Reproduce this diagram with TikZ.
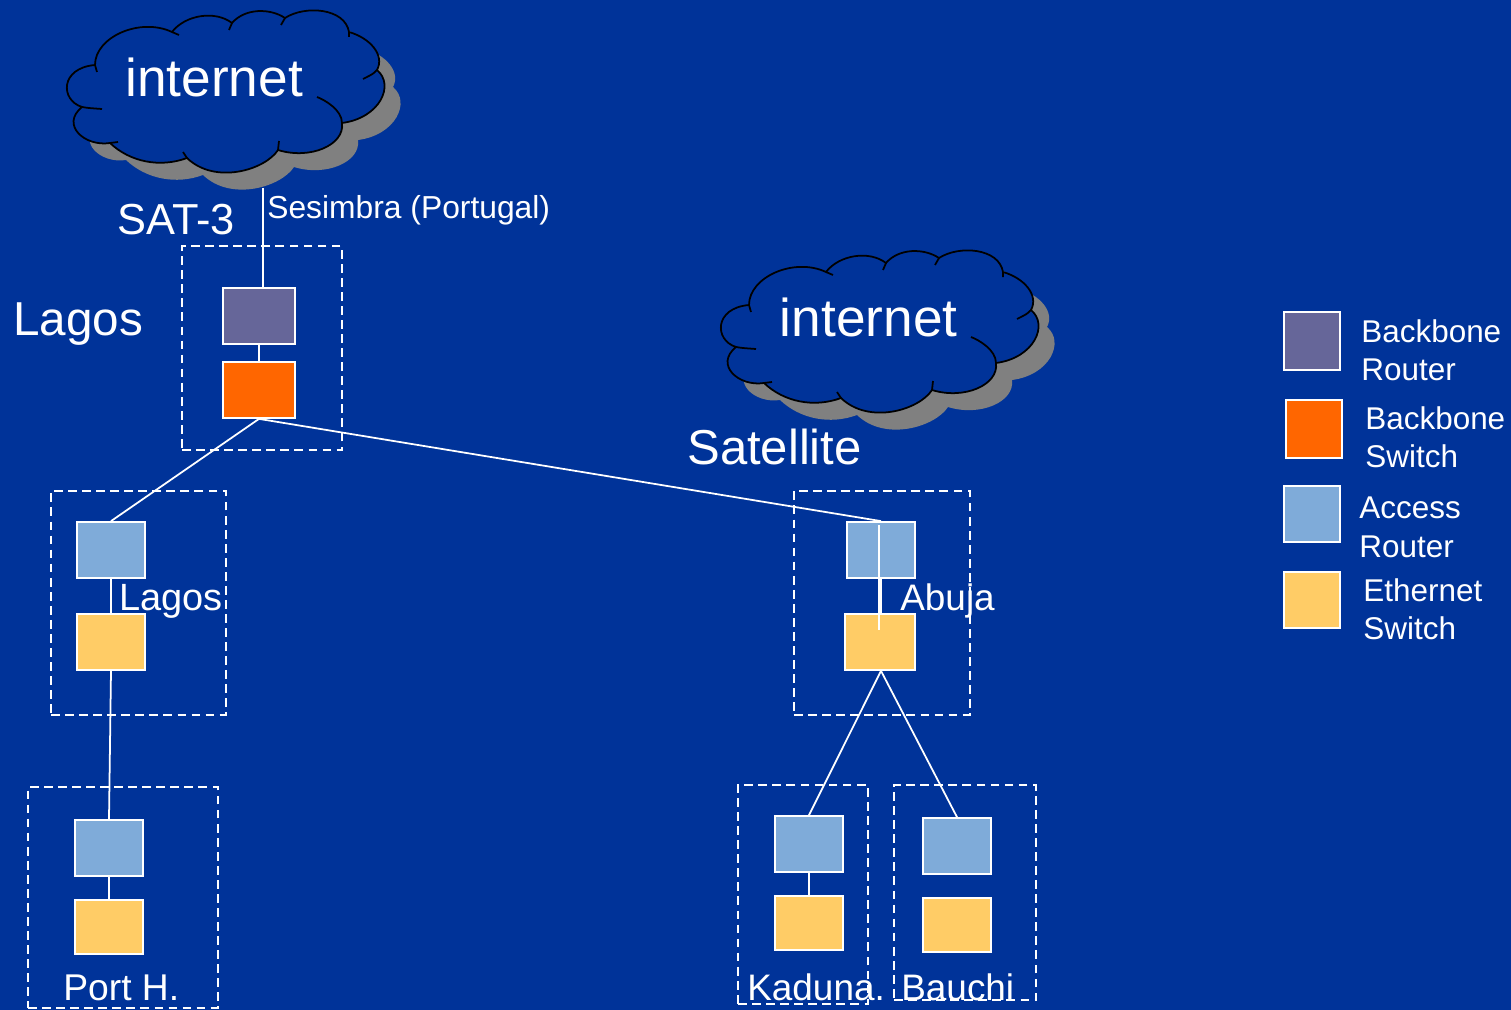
\documentclass[tikz,border=0pt]{standalone}
\usepackage{fontspec}
\setmainfont{Liberation Sans}
\usepackage{xcolor}
\definecolor{slidebg}{HTML}{003399}
\definecolor{routercol}{HTML}{666699}
\definecolor{switchcol}{HTML}{FF6600}
\definecolor{accesscol}{HTML}{7FABD9}
\definecolor{ethercol}{HTML}{FFCC66}
\definecolor{shadowcol}{HTML}{808080}
% outline of the cloud, in pixels of the slide
\newcommand{\cloudoutline}{(95,65) .. controls (95,37) and (140,17) .. (172,32)
  .. controls (185,15) and (215,10) .. (232,23)
  .. controls (245,8) and (270,8) .. (285,18)
  .. controls (305,5) and (345,8) .. (349,32)
  .. controls (370,38) and (385,55) .. (377,70)
  .. controls (395,85) and (380,118) .. (342,123)
  .. controls (345,145) and (310,160) .. (278,150)
  .. controls (265,170) and (215,185) .. (187,158)
  .. controls (160,168) and (130,162) .. (110,143)
  .. controls (85,147) and (60,125) .. (82,107)
  .. controls (60,100) and (60,68) .. (95,65) -- cycle}
\newcommand{\cloudhooks}{(95,65) -- (97,72) (172,32) -- (179,35) (232,23) -- (229,30)
  (285,18) -- (281,25) (349,32) -- (349,37) (377,70) .. controls (373,74) .. (363,79)
  (342,123) .. controls (342,110) and (325,100) .. (317,97)
  (278,150) -- (279,141) (187,158) -- (183,152) (110,143) -- (118,142)
  (82,107) .. controls (88,108) .. (102,109)}
\tikzset{
  cloudedge/.style={draw=black, fill=slidebg, line width=1pt},
  cloudhook/.style={draw=black, line width=1pt},
  cloudshade/.style={fill=shadowcol},
  netbox/.style={draw=white, line width=1pt, minimum width=1.36cm, minimum height=1.12cm, inner sep=0pt},
  sitebox/.style={draw=white, dash pattern=on 5pt off 3pt, line width=1pt, inner sep=0pt},
  link/.style={draw=white, line width=1pt},
  lbl/.style={text=white, anchor=base west, inner sep=0pt},
  keylbl/.style={text=white, anchor=west, inner sep=0pt, align=left, font=\fontsize{17.9}{21.5}\selectfont},
}
\begin{document}
\begin{tikzpicture}[x=0.02cm,y=-0.02cm]
    \useasboundingbox[fill=slidebg] (0,0) rectangle (1511,1010);
    % the two clouds
    \fill[cloudshade,shift={(16,17)}] \cloudoutline;
    \path[cloudedge] \cloudoutline;
    \path[cloudhook] \cloudhooks;
    \begin{scope}[shift={(654,240)}]
        \fill[cloudshade,shift={(16,17)}] \cloudoutline;
        \path[cloudedge] \cloudoutline;
        \path[cloudhook] \cloudhooks;
    \end{scope}
    \coordinate (cloudfoot) at (263,188);
    % dashed site frames
    \node[sitebox, minimum width=3.2cm, minimum height=4.08cm] (siteLagosTop) at (262,348) {};
    \node[sitebox, minimum width=3.5cm, minimum height=4.48cm] (siteLagos) at (138.5,603) {};
    \node[sitebox, minimum width=3.8cm, minimum height=4.42cm] (sitePort) at (123,897.5) {};
    \node[sitebox, minimum width=3.52cm, minimum height=4.48cm] (siteAbuja) at (882,603) {};
    \node[sitebox, minimum width=2.6cm, minimum height=4.38cm] (siteKaduna) at (803,894.5) {};
    \node[sitebox, minimum width=2.84cm, minimum height=4.3cm] (siteBauchi) at (965,892.5) {};
    % Lagos backbone
    \node[netbox, fill=routercol, minimum width=1.44cm] (router) at (259,316) {};
    \node[netbox, fill=switchcol, minimum width=1.44cm] (switch) at (259,390) {};
    % Lagos and Port Harcourt
    \node[netbox, fill=accesscol] (accLagos) at (111,550) {};
    \node[netbox, fill=ethercol] (ethLagos) at (111,642) {};
    \node[netbox, fill=accesscol] (accPort) at (109,848) {};
    \node[netbox, fill=ethercol, minimum height=1.08cm] (ethPort) at (109,927) {};
    % Abuja and the sites behind it
    \node[netbox, fill=accesscol] (accAbuja) at (881,550) {};
    \node[netbox, fill=ethercol, minimum width=1.4cm] (ethAbuja) at (880,642) {};
    \node[netbox, fill=accesscol] (accKaduna) at (809,844) {};
    \node[netbox, fill=ethercol, minimum height=1.08cm] (ethKaduna) at (809,923) {};
    \node[netbox, fill=accesscol] (accBauchi) at (957,846) {};
    \node[netbox, fill=ethercol, minimum height=1.08cm] (ethBauchi) at (957,925) {};
    % links
    \draw[link] (cloudfoot) -- (cloudfoot |- router.north);
    \draw[link] (router) -- (switch);
    \draw[link] (switch.south) -- (accLagos.north);
    \draw[link] (switch.south) -- (accAbuja.north);
    \draw[link] (accLagos) -- (ethLagos);
    \draw[link] (ethLagos.south) -- (accPort.north);
    \draw[link] (accPort) -- (ethPort);
    \draw[link] (accAbuja.south) -- (accAbuja.south |- ethAbuja.north);
    \coordinate (abujaTop) at (879,525);
    \coordinate (abujaEnd) at (879,630);
    \draw[link] (abujaTop) -- (abujaEnd);
    \draw[link] (accAbuja.south |- ethAbuja.south) -- (accKaduna.north);
    \draw[link] (accAbuja.south |- ethAbuja.south) -- (accBauchi.north);
    \draw[link] (accKaduna) -- (ethKaduna);
    % texts
    \node[lbl, font=\fontsize{30.3}{36}\selectfont] (inetA) at (125,97) {internet};
    \node[lbl, font=\fontsize{30.3}{36}\selectfont] (inetB) at (779.5,337) {internet};
    \node[lbl, font=\fontsize{18.1}{22}\selectfont] (sesimbra) at (267,219) {Sesimbra (Portugal)};
    \node[lbl, font=\fontsize{24.7}{30}\selectfont] (sat) at (117,235) {SAT-3};
    \node[lbl, font=\fontsize{27.1}{32}\selectfont] (lagosBig) at (13,336) {Lagos};
    \node[lbl, font=\fontsize{27.9}{33}\selectfont] (satellite) at (687,464) {Satellite};
    \node[lbl, font=\fontsize{21.6}{26}\selectfont] (lagosSmall) at (119,610) {Lagos};
    \node[lbl, font=\fontsize{21}{25}\selectfont] (abuja) at (900,610) {Abuja};
    \node[lbl, font=\fontsize{21.2}{25}\selectfont] (port) at (63,1000) {Port H.};
    \node[lbl, font=\fontsize{21}{25}\selectfont] (kaduna) at (747,1000) {Kaduna.};
    \node[lbl, font=\fontsize{21}{25}\selectfont] (bauchi) at (901,1000) {Bauchi};
    % legend
    \node[netbox, fill=routercol, minimum width=1.12cm, minimum height=1.16cm] (keyRouter) at (1312,341) {};
    \node[netbox, fill=switchcol, minimum width=1.12cm, minimum height=1.16cm] (keySwitch) at (1314,429) {};
    \node[netbox, fill=accesscol, minimum width=1.12cm] (keyAccess) at (1312,514) {};
    \node[netbox, fill=ethercol, minimum width=1.12cm] (keyEther) at (1312,600) {};
    \node[keylbl] (txtRouter) at (1361,350) {Backbone\\Router};
    \node[keylbl] (txtSwitch) at (1365,437) {Backbone\\Switch};
    \node[keylbl] (txtAccess) at (1359,527.5) {Access\\[1pt]Router};
    \node[keylbl] (txtEther) at (1363,609.5) {Ethernet\\Switch};
\end{tikzpicture}
\end{document}
